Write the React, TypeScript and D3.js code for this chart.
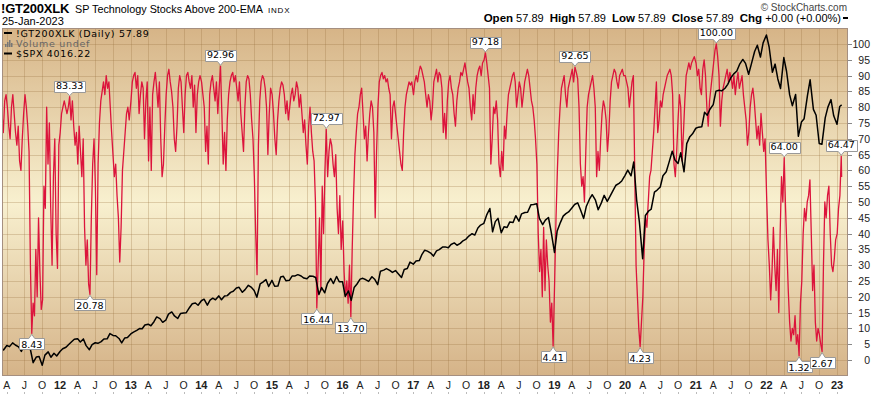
import React, { useEffect, useRef } from 'react';
import * as d3 from 'd3';

const W = 875;
const H = 396;

// !GT200XLK, weekly readings (2011 from 7-Mar, later years from 2-Jan)
const gt2011 = [78, 72, 82, 84, 80, 74, 70, 80, 84, 78, 72, 68, 74, 63, 60, 70, 78, 84, 80, 74, 66,
  30, 8.43, 18, 14, 35, 20, 45, 28, 16, 19, 55, 48, 80, 62, 75, 48, 30, 58, 70, 40, 29, 68];
const gt2012 = [72, 78, 80, 82, 80, 78, 80, 83.33, 76, 82, 74, 68, 72, 62, 74, 66, 58, 70, 42, 30, 38, 24,
  20.78, 45, 62, 70, 55, 27, 62, 75, 82, 85, 88, 84, 90, 86, 88, 80, 72, 65, 58, 62, 52, 45, 31, 42, 60, 66, 72, 78, 80, 76];
const gt2013 = [82, 88, 90, 91, 86, 90, 78, 84, 88, 86, 70, 82, 88, 63, 80, 60, 84, 88, 91, 86, 80, 88, 70, 58, 62, 74,
  84, 90, 92, 88, 85, 80, 70, 66, 74, 86, 90, 88, 80, 72, 84, 90, 91, 88, 86, 90, 80, 87, 72, 84, 88, 90];
const gt2014 = [88, 84, 80, 66, 74, 62, 84, 88, 90, 86, 82, 88, 78, 86, 92.96, 78, 62, 72, 60, 76, 84, 88, 90, 91, 88, 90,
  86, 82, 88, 78, 72, 66, 80, 88, 90, 89, 84, 76, 70, 58, 40, 27, 68, 82, 88, 90, 89, 86, 80, 65, 78, 86];
const gt2015 = [84, 78, 70, 65, 76, 82, 86, 88, 87, 84, 78, 82, 76, 80, 84, 86, 82, 84, 88, 86, 80, 84, 78, 72, 76, 68,
  62, 74, 80, 72, 66, 63, 50, 16.44, 30, 45, 22, 55, 40, 60, 72.97, 58, 66, 70, 68, 62, 58, 65, 48, 40, 52, 35];
const gt2016 = [44, 28, 20, 25, 18, 30, 13.7, 35, 52, 65, 72, 78, 80, 84, 86, 78, 70, 74, 63, 72, 78, 82, 80, 72, 45, 66,
  80, 88, 90, 91, 89, 90, 88, 89, 86, 84, 70, 80, 82, 78, 74, 70, 66, 62, 60, 72, 80, 84, 86, 88, 87, 88];
const gt2017 = [84, 88, 90, 88, 91, 93, 92, 90, 88, 84, 80, 84, 82, 76, 80, 88, 90, 92, 88, 91, 90, 86, 72, 78, 70, 82,
  88, 90, 86, 84, 78, 74, 82, 86, 88, 91, 90, 92, 94, 91, 88, 86, 80, 76, 84, 78, 86, 90, 92, 93, 90, 94];
const gt2018 = [95, 97.18, 94, 90, 86, 62, 70, 80, 78, 82, 76, 62, 58, 66, 60, 74, 70, 78, 84, 86, 88, 90, 91, 88, 80, 84,
  88, 86, 80, 84, 88, 90, 92, 90, 86, 82, 80, 76, 70, 62, 40, 28, 35, 20, 42, 22, 38, 30, 25, 12, 18, 4.41];
const gt2019 = [25, 45, 60, 72, 80, 86, 88, 90, 84, 80, 86, 88, 90, 92, 88, 92.65, 91, 89, 80, 62, 55, 58, 50, 66, 80, 84,
  86, 88, 90, 86, 80, 58, 66, 60, 70, 78, 82, 80, 76, 66, 72, 82, 88, 90, 92, 91, 88, 86, 90, 91, 92, 90];
const gt2020 = [90, 88, 86, 80, 84, 88, 90, 60, 30, 20, 10, 4.23, 12, 20, 35, 45, 42, 50, 58, 60, 66, 72, 80, 88, 72, 76,
  82, 80, 84, 86, 88, 90, 91, 92, 90, 84, 62, 58, 66, 76, 84, 80, 63, 72, 82, 90, 92, 94, 92, 94, 95, 96];
const gt2021 = [94, 90, 92, 86, 84, 92, 95, 90, 80, 74, 82, 86, 90, 94, 98, 100, 96, 90, 74, 82, 86, 88, 90, 92, 88, 91,
  89, 86, 90, 84, 88, 91, 86, 88, 90, 84, 80, 76, 68, 72, 80, 84, 86, 82, 76, 70, 74, 68, 78, 72, 66, 70];
const gt2022 = [52, 38, 30, 19, 28, 42, 30, 22, 35, 15, 40, 58, 50, 64, 48, 35, 22, 12, 6, 10, 8, 14, 5, 8, 1.32, 18,
  25, 40, 48, 44, 50, 52, 57, 40, 22, 30, 12, 6, 10, 8, 5, 2.67, 30, 50, 45, 52, 55, 40, 30, 28, 32, 38];
const gt2023 = [40, 48, 52, 64.47];
const gtLast = 57.89;

// $SPX, closes around the 1st and 15th of each month (2011 from March)
const spx2011 = [1305, 1281, 1332, 1319, 1361, 1337, 1315, 1266, 1339, 1317, 1287, 1140, 1204, 1209, 1110, 1224, 1260, 1200, 1245, 1215];
const spx2012 = [1265, 1295, 1312, 1343, 1374, 1402, 1408, 1370, 1405, 1330, 1285, 1342, 1362, 1356, 1375, 1405, 1406, 1465, 1444, 1440, 1410, 1360, 1416, 1420];
const spx2013 = [1460, 1480, 1500, 1520, 1518, 1560, 1569, 1552, 1597, 1650, 1631, 1590, 1614, 1682, 1706, 1661, 1633, 1688, 1695, 1698, 1756, 1798, 1806, 1781];
const spx2014 = [1831, 1848, 1782, 1838, 1859, 1841, 1885, 1842, 1883, 1888, 1924, 1937, 1973, 1981, 1925, 1955, 2003, 1984, 1946, 1870, 2018, 2039, 2067, 1990];
const spx2015 = [2058, 1992, 1995, 2096, 2104, 2053, 2059, 2106, 2108, 2122, 2107, 2084, 2077, 2107, 2104, 2091, 1900, 1978, 1920, 2023, 2079, 2023, 2102, 2043];
const spx2016 = [2044, 1880, 1940, 1835, 1978, 2015, 2072, 2081, 2065, 2047, 2099, 2071, 2010, 2161, 2173, 2190, 2170, 2147, 2168, 2132, 2090, 2180, 2191, 2262];
const spx2017 = [2239, 2274, 2279, 2349, 2395, 2385, 2363, 2329, 2388, 2402, 2430, 2432, 2423, 2459, 2476, 2450, 2471, 2500, 2519, 2553, 2579, 2564, 2642, 2675];
const spx2018 = [2695, 2786, 2860, 2600, 2714, 2750, 2590, 2656, 2648, 2711, 2705, 2780, 2718, 2801, 2816, 2818, 2901, 2904, 2914, 2750, 2680, 2730, 2760, 2600];
const spx2019 = [2370, 2610, 2706, 2775, 2803, 2822, 2867, 2905, 2924, 2850, 2750, 2886, 2964, 3014, 2953, 2847, 2926, 3007, 2940, 2995, 3066, 3120, 3141, 3168];
const spx2020 = [3231, 3289, 3225, 3380, 2954, 2711, 2300, 2783, 2830, 2852, 3044, 3066, 3100, 3226, 3271, 3372, 3500, 3401, 3363, 3483, 3270, 3585, 3662, 3694];
const spx2021 = [3756, 3768, 3773, 3934, 3901, 3968, 4020, 4170, 4181, 4173, 4202, 4246, 4320, 4360, 4395, 4468, 4524, 4480, 4358, 4471, 4613, 4682, 4550, 4709];
const spx2022 = [4797, 4663, 4380, 4472, 4306, 4200, 4545, 4392, 4131, 4008, 4132, 3667, 3825, 3863, 4118, 4297, 3967, 3901, 3586, 3577, 3872, 3992, 4076, 3895];
const spx2023 = [3800, 3999];
const spxLast = 4016.22;

const yTicks = [0, 5, 10, 15, 20, 25, 30, 35, 40, 45, 50, 55, 60, 65, 70, 75, 80, 85, 90, 95, 100];
const monthLetters: Record<number, string> = { 3: 'A', 6: 'J', 9: 'O' };

// value boxes: the value and whether it sits under a low or over a high
const labelValues = [8.43, 83.33, 20.78, 92.96, 16.44, 72.97, 13.7, 97.18, 4.41, 92.65, 4.23, 100, 64, 1.32, 2.67, 64.47];
const labelKinds = ['low', 'high', 'low', 'high', 'low', 'high', 'low', 'high', 'low', 'high', 'low', 'high', 'high', 'low', 'low', 'high'];

const RED = '#dc143c';
const SANS = '"Liberation Sans", Arial, sans-serif';
const VERD = '"DejaVu Sans", Verdana, sans-serif';

export default function App() {
  const svgRef = useRef<SVGSVGElement>(null);

  useEffect(() => {
    document.body.style.margin = '0';
    if (!svgRef.current) return;
    const svg = d3.select(svgRef.current);
    svg.selectAll('*').remove();

    const plot = { left: 2, right: 848, top: 28, bottom: 376 };

    const gtYears: [number, number[]][] = [
      [2012, gt2012], [2013, gt2013], [2014, gt2014], [2015, gt2015], [2016, gt2016], [2017, gt2017],
      [2018, gt2018], [2019, gt2019], [2020, gt2020], [2021, gt2021], [2022, gt2022], [2023, gt2023],
    ];
    const gtData = [
      ...gt2011.map((v, i) => ({ date: new Date(2011, 2, 7 + 7 * i), v })),
      ...gtYears.flatMap(([yr, arr]) => arr.map((v, i) => ({ date: new Date(yr, 0, 2 + 7 * i), v }))),
      { date: new Date(2023, 0, 25), v: gtLast },
    ];

    const semi = (yr: number, m0: number, arr: number[]) =>
      arr.map((v, i) => ({ date: new Date(yr, m0 + Math.floor(i / 2), i % 2 ? 15 : 1), v }));
    const spxData = [
      ...semi(2011, 2, spx2011), ...semi(2012, 0, spx2012), ...semi(2013, 0, spx2013), ...semi(2014, 0, spx2014),
      ...semi(2015, 0, spx2015), ...semi(2016, 0, spx2016), ...semi(2017, 0, spx2017), ...semi(2018, 0, spx2018),
      ...semi(2019, 0, spx2019), ...semi(2020, 0, spx2020), ...semi(2021, 0, spx2021), ...semi(2022, 0, spx2022),
      ...semi(2023, 0, spx2023),
      { date: new Date(2023, 0, 25), v: spxLast },
    ];

    const x = d3.scaleTime().domain([new Date(2012, 0, 1), new Date(2023, 0, 1)]).range([60, 837]);
    const y = d3.scaleLinear().domain([0, 100]).range([360, 44]);
    const ySpx = d3.scaleLinear().domain([1000, 4800]).range([375.2, 34.7]);

    const defs = svg.append('defs');
    const grad = defs.append('linearGradient').attr('id', 'bg').attr('x1', 0).attr('x2', 0).attr('y1', 0).attr('y2', 1);
    grad.append('stop').attr('offset', '0%').attr('stop-color', '#d6b487');
    grad.append('stop').attr('offset', '50%').attr('stop-color', '#f8f0cf');
    grad.append('stop').attr('offset', '100%').attr('stop-color', '#d5b388');
    defs.append('clipPath').attr('id', 'plotclip').append('rect')
      .attr('x', plot.left).attr('y', plot.top).attr('width', plot.right - plot.left).attr('height', plot.bottom - plot.top);

    svg.append('rect').attr('width', W).attr('height', H).attr('fill', '#ffffff');
    svg.append('rect')
      .attr('x', plot.left).attr('y', plot.top).attr('width', plot.right - plot.left).attr('height', plot.bottom - plot.top)
      .attr('fill', 'url(#bg)');

    // grid
    const quarters = d3.timeMonth.every(3)!.range(new Date(2011, 3, 1), new Date(2023, 1, 1));
    const grid = svg.append('g').attr('stroke', 'rgba(150,112,62,0.28)').attr('stroke-width', 1);
    quarters.forEach(q => {
      const qx = Math.round(x(q)) + 0.5;
      grid.append('line').attr('x1', qx).attr('x2', qx).attr('y1', plot.top).attr('y2', plot.bottom);
    });
    yTicks.forEach(t => {
      const ty = Math.round(y(t)) + 0.5;
      grid.append('line').attr('x1', plot.left).attr('x2', plot.right).attr('y1', ty).attr('y2', ty);
    });

    const body = svg.append('g').attr('clip-path', 'url(#plotclip)');

    const gtLine = d3.line<{ date: Date; v: number }>().x(d => x(d.date)).y(d => y(d.v));
    body.append('path').datum(gtData).attr('d', gtLine)
      .attr('fill', 'none').attr('stroke', RED).attr('stroke-width', 1.3).attr('stroke-linejoin', 'round');

    const spxLine = d3.line<{ date: Date; v: number }>().x(d => x(d.date)).y(d => ySpx(d.v));
    body.append('path').datum(spxData).attr('d', spxLine)
      .attr('fill', 'none').attr('stroke', '#000').attr('stroke-width', 1.5).attr('stroke-linejoin', 'round');

    // frame
    svg.append('rect')
      .attr('x', plot.left + 0.5).attr('y', plot.top + 0.5)
      .attr('width', plot.right - plot.left - 1).attr('height', plot.bottom - plot.top - 1)
      .attr('fill', 'none').attr('stroke', '#a58f80');

    // right axis
    const yAxis = svg.append('g').attr('font-family', SANS).attr('font-size', 10.5).attr('fill', '#222');
    yTicks.forEach(t => {
      const ty = Math.round(y(t)) + 0.5;
      yAxis.append('line').attr('x1', plot.right).attr('x2', plot.right + 4).attr('y1', ty).attr('y2', ty)
        .attr('stroke', '#888');
      yAxis.append('text').attr('x', 870).attr('y', ty + 3.8).attr('text-anchor', 'end').text(String(t));
    });

    // bottom axis
    const xAxis = svg.append('g').attr('font-family', SANS).attr('fill', '#222');
    quarters.forEach(q => {
      const qx = x(q);
      const isYear = q.getMonth() === 0;
      xAxis.append('text')
        .attr('x', qx).attr('y', 389).attr('text-anchor', 'middle')
        .attr('font-size', isYear ? 11 : 10.5).attr('font-weight', isYear ? 'bold' : 'normal')
        .text(isYear ? String(q.getFullYear() % 100).padStart(2, '0') : monthLetters[q.getMonth()]);
      xAxis.append('line').attr('x1', Math.round(qx) + 0.5).attr('x2', Math.round(qx) + 0.5)
        .attr('y1', 392).attr('y2', 394).attr('stroke', '#bbb');
    });

    // value boxes
    const fmt = d3.format('.2f');
    labelValues.forEach((val, i) => {
      const p = gtData.find(d => d.v === val);
      if (!p) return;
      const px = x(p.date);
      const py = y(p.v);
      const high = labelKinds[i] === 'high';
      const g = svg.append('g');
      const path = g.append('path');
      const txt = g.append('text')
        .attr('font-family', VERD).attr('font-size', 9.5).attr('fill', '#000')
        .attr('text-anchor', 'middle').attr('x', px)
        .attr('y', high ? py - 8 : py + 15)
        .text(fmt(val));
      const bw = (txt.node() as SVGTextElement).getComputedTextLength() + 4;
      const l = Math.round(px - bw / 2) + 0.5;
      const r = l + Math.round(bw);
      const bh = 11;
      if (high) {
        const b = Math.round(py) - 4.5;
        const t = b - bh;
        path.attr('d', `M${l},${t}H${r}V${b}H${px + 3}L${px},${py - 1}L${px - 3},${b}H${l}Z`);
      } else {
        const t = Math.round(py) + 5.5;
        const b = t + bh;
        path.attr('d', `M${l},${t}H${px - 3}L${px},${py + 1}L${px + 3},${t}H${r}V${b}H${l}Z`);
      }
      path.attr('fill', '#fff').attr('stroke', '#999').attr('stroke-width', 1);
    });

    // legend
    const lg = svg.append('g').attr('font-family', VERD).attr('font-size', 9.5).attr('letter-spacing', 0.7);
    lg.append('rect').attr('x', 4).attr('y', 32).attr('width', 8).attr('height', 2).attr('fill', '#000');
    lg.append('text').attr('x', 16).attr('y', 36.5).attr('fill', '#000').text('!GT200XLK (Daily) 57.89');
    [[5, 3], [7, 5], [9, 7], [11, 4]].forEach(([bx, bh]) => {
      lg.append('rect').attr('x', bx).attr('y', 47 - bh).attr('width', 1.5).attr('height', bh).attr('fill', '#777');
    });
    lg.append('text').attr('x', 16).attr('y', 47).attr('fill', '#666').text('Volume undef');
    lg.append('rect').attr('x', 4).attr('y', 52.5).attr('width', 8).attr('height', 2).attr('fill', '#000');
    lg.append('text').attr('x', 16).attr('y', 57).attr('fill', '#000').text('$SPX 4016.22');

    // header
    const hd = svg.append('g').attr('font-family', SANS).attr('fill', '#000');
    hd.append('text').attr('x', 1).attr('y', 13).attr('font-size', 13).attr('font-weight', 'bold')
      .attr('letter-spacing', -0.2).text('!GT200XLK');
    hd.append('text').attr('x', 75).attr('y', 13).attr('font-size', 10.8).text('SP Technology Stocks Above 200-EMA');
    hd.append('text').attr('x', 268).attr('y', 13).attr('font-size', 8).attr('letter-spacing', 0.8).text('INDX');
    hd.append('text').attr('x', 2).attr('y', 25).attr('font-size', 11).text('25-Jan-2023');
    hd.append('text').attr('x', 847).attr('y', 10.5).attr('font-size', 10).attr('fill', '#444')
      .attr('text-anchor', 'end').text('\u00a9 StockCharts.com');

    const ohlc = hd.append('text').attr('x', 841).attr('y', 21.5).attr('font-size', 11).attr('text-anchor', 'end');
    const parts: [string, string][] = [['Open', ' 57.89  '], ['High', ' 57.89  '], ['Low', ' 57.89  '], ['Close', ' 57.89  '], ['Chg', ' +0.00 (+0.00%)']];
    parts.forEach(([k, v]) => {
      ohlc.append('tspan').attr('font-weight', 'bold').attr('font-size', 11.5).text(k);
      ohlc.append('tspan').attr('xml:space', 'preserve').text(v);
    });
    ohlc.attr('xml:space', 'preserve');
    hd.append('rect').attr('x', 843).attr('y', 17).attr('width', 5).attr('height', 2).attr('fill', '#000');
  }, []);

  return <svg ref={svgRef} width={W} height={H} style={{ display: 'block' }} />;
}
